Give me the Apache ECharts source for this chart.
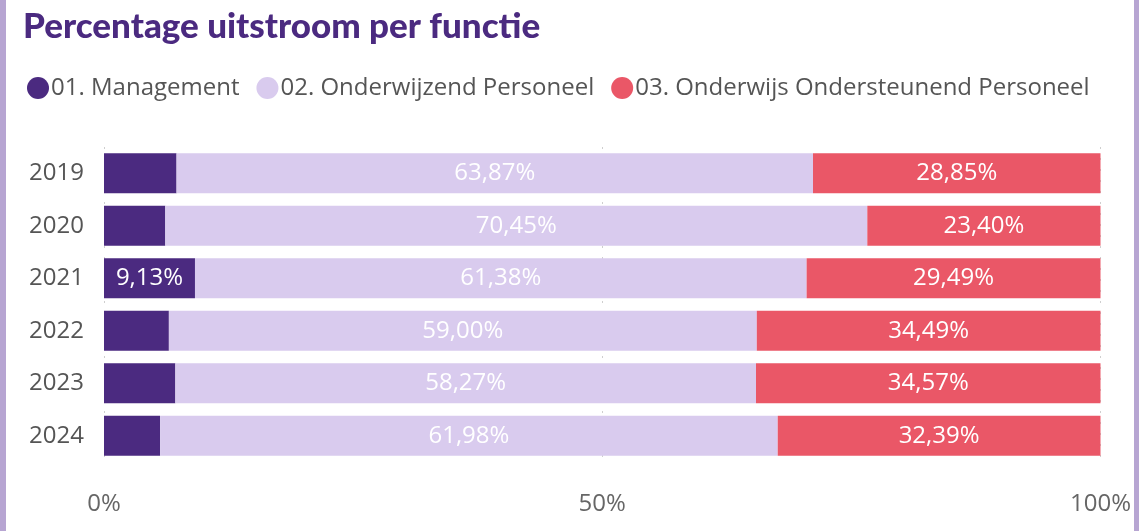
<!DOCTYPE html>
<html lang="nl">
<head>
<meta charset="UTF-8">
<title>Percentage uitstroom per functie</title>
<script src="https://cdn.jsdelivr.net/npm/echarts@6/dist/echarts.min.js"></script>
</head>
<body style="margin:0;background:#fff">
<div id="wrap" style="position:absolute;left:0;top:0;width:1139px;height:531px;box-sizing:border-box;border-left:6px solid #B7A5D2;border-right:5px solid #B7A5D2">
  <div id="chart" style="width:100%;height:100%"></div>
</div>
<script>
  var years = ['2019', '2020', '2021', '2022', '2023', '2024'];
  var management = [7.28, 6.15, 9.13, 6.51, 7.16, 5.63];
  var onderwijzend = [63.87, 70.45, 61.38, 59.00, 58.27, 61.98];
  var ondersteunend = [28.85, 23.40, 29.49, 34.49, 34.57, 32.39];
  var seriesNames = ['01. Management', '02. Onderwijzend Personeel', '03. Onderwijs Ondersteunend Personeel'];
  var colors = ['#4B2A80', '#D9CBEE', '#EA5767'];

  var font = '"Open Sans", "Noto Sans", sans-serif';

  function pct(v) {
    return v.toFixed(2).replace('.', ',') + '%';
  }

  var chart = echarts.init(document.getElementById('chart'));

  function bar(name, values, color, showFn) {
    return {
      name: name,
      type: 'bar',
      stack: 'total',
      barWidth: 40,
      itemStyle: { color: color },
      label: {
        show: true,
        position: 'inside',
        color: '#fff',
        fontFamily: font,
        fontSize: 24,
        formatter: function (p) { return showFn(p.dataIndex) ? pct(p.value) : ''; }
      },
      data: values
    };
  }

  var option = {
    animation: false,
    color: colors,
    title: {
      text: 'Percentage uitstroom per functie',
      left: 12,
      top: 4,
      textStyle: {
        color: '#4B2A80',
        fontFamily: 'Lato, sans-serif',
        fontWeight: 900,
        fontSize: 35
      }
    },
    legend: {
      left: 16,
      top: 71,
      icon: 'circle',
      itemWidth: 22,
      itemHeight: 22,
      itemGap: 17,
      textStyle: { color: '#555', fontFamily: font, fontSize: 24, padding: [0, 0, 0, -3] },
      data: seriesNames
    },
    grid: { left: 98, right: 32, top: 147, bottom: 69 },
    xAxis: {
      type: 'value',
      min: 0,
      max: 100,
      interval: 50,
      axisLabel: {
        color: '#666',
        fontFamily: font,
        fontSize: 24,
        margin: 30,
        formatter: '{value}%'
      },
      axisLine: { show: false },
      axisTick: { show: false },
      splitLine: { lineStyle: { color: '#cfcfcf', type: [2, 9], width: 1 } }
    },
    yAxis: {
      type: 'category',
      inverse: true,
      data: years,
      axisLabel: { color: '#555', fontFamily: font, fontSize: 24, margin: 20 },
      axisLine: { show: false },
      axisTick: { show: false }
    },
    series: [
      bar(seriesNames[0], management, colors[0], function (i) { return management[i] > 8; }),
      bar(seriesNames[1], onderwijzend, colors[1], function () { return true; }),
      bar(seriesNames[2], ondersteunend, colors[2], function () { return true; })
    ]
  };

  chart.setOption(option);
</script>
</body>
</html>
